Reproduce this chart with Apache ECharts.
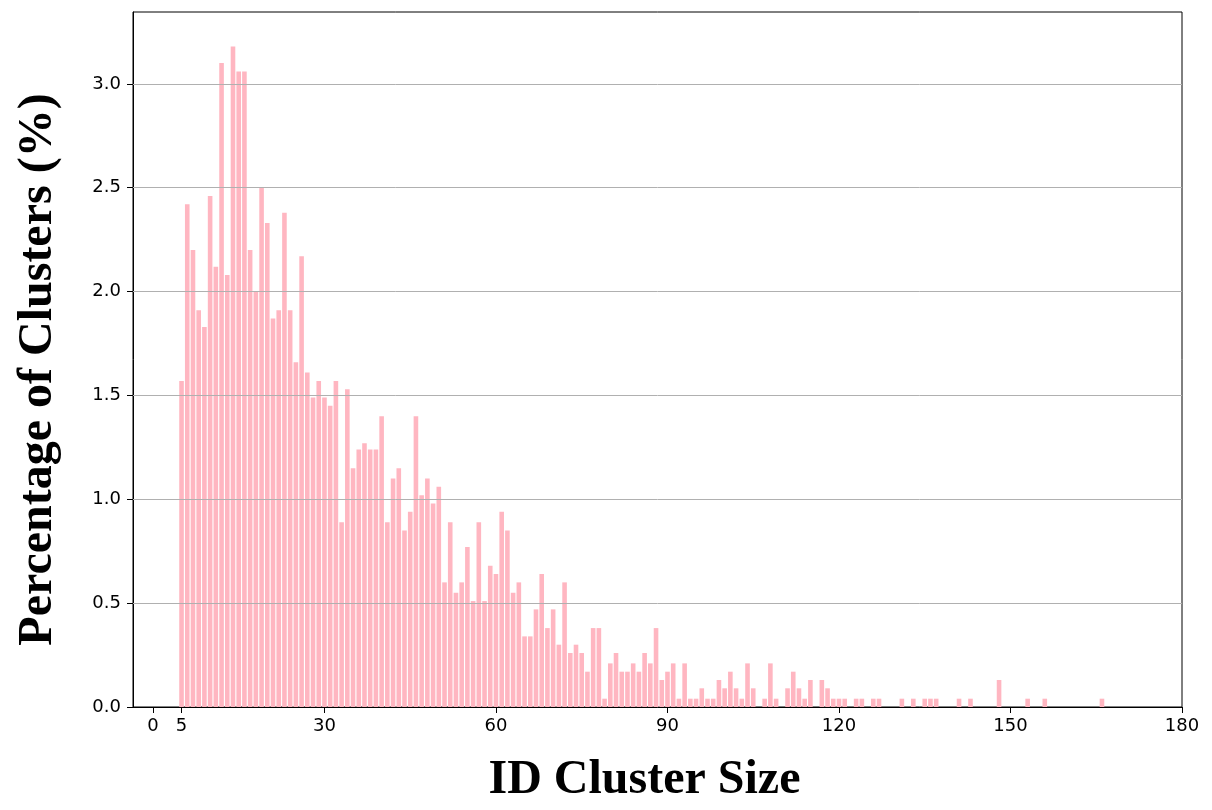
<!DOCTYPE html>
<html>
<head>
<meta charset="utf-8">
<title>ID Cluster Size</title>
<script src="https://cdn.jsdelivr.net/npm/echarts@6/dist/echarts.min.js"></script>
<style>
  html, body { margin: 0; padding: 0; background: #fff; }
  #chart { width: 1212px; height: 810px; }
</style>
</head>
<body>
<div id="chart"></div>
<script>
// cluster size (x) and percentage of clusters (y)
var sizes = [
    5, 6, 7, 8, 9, 10, 11, 12, 13, 14, 15, 16, 17, 18, 19, 20, 21, 22, 23, 24,
    25, 26, 27, 28, 29, 30, 31, 32, 33, 34, 35, 36, 37, 38, 39, 40, 41, 42, 43, 44,
    45, 46, 47, 48, 49, 50, 51, 52, 53, 54, 55, 56, 57, 58, 59, 60, 61, 62, 63, 64,
    65, 66, 67, 68, 69, 70, 71, 72, 73, 74, 75, 76, 77, 78, 79, 80, 81, 82, 83, 84,
    85, 86, 87, 88, 89, 90, 91, 92, 93, 94, 95, 96, 97, 98, 99, 100, 101, 102, 103, 104,
    105, 107, 108, 109, 111, 112, 113, 114, 115, 117, 118, 119, 120, 121, 123, 124,
    126, 127, 131, 133, 135, 136, 137, 141, 143, 148, 153, 156, 166
];
var percents = [
    1.57, 2.42, 2.20, 1.91, 1.83, 2.46, 2.12, 3.10, 2.08, 3.18, 3.06, 3.06, 2.20, 2.00, 2.50, 2.33, 1.87, 1.91, 2.38, 1.91,
    1.66, 2.17, 1.61, 1.49, 1.57, 1.49, 1.45, 1.57, 0.89, 1.53, 1.15, 1.24, 1.27, 1.24, 1.24, 1.40, 0.89, 1.10, 1.15, 0.85,
    0.94, 1.40, 1.02, 1.10, 0.98, 1.06, 0.60, 0.89, 0.55, 0.60, 0.77, 0.51, 0.89, 0.51, 0.68, 0.64, 0.94, 0.85, 0.55, 0.60,
    0.34, 0.34, 0.47, 0.64, 0.38, 0.47, 0.30, 0.60, 0.26, 0.30, 0.26, 0.17, 0.38, 0.38, 0.04, 0.21, 0.26, 0.17, 0.17, 0.21,
    0.17, 0.26, 0.21, 0.38, 0.13, 0.17, 0.21, 0.04, 0.21, 0.04, 0.04, 0.09, 0.04, 0.04, 0.13, 0.09, 0.17, 0.09, 0.04, 0.21,
    0.09, 0.04, 0.21, 0.04, 0.09, 0.17, 0.09, 0.04, 0.13, 0.13, 0.09, 0.04, 0.04, 0.04, 0.04, 0.04,
    0.04, 0.04, 0.04, 0.04, 0.04, 0.04, 0.04, 0.04, 0.04, 0.13, 0.04, 0.04, 0.04
];
var xTicks = [0, 5, 30, 60, 90, 120, 150, 180];
var yTicks = [0, 0.5, 1.0, 1.5, 2.0, 2.5, 3.0];

var dom = document.getElementById("chart");
var myChart = echarts.init(dom);

var barData = [];
for (var i = 0; i < sizes.length; i++) {
    barData.push([sizes[i], percents[i]]);
}

var tickFont = {
    color: '#000',
    fontFamily: 'DejaVu Sans',
    fontSize: 18
};

var option = {
    animation: false,
    grid: {
        left: 133,
        right: 30,
        top: 12,
        bottom: 102,
        show: true,
        borderColor: '#000',
        borderWidth: 1
    },
    xAxis: {
        type: 'value',
        min: -3.49,
        max: 180,
        name: 'ID Cluster Size',
        nameLocation: 'middle',
        nameGap: 50,
        nameTextStyle: {
            fontFamily: 'Liberation Serif',
            fontWeight: 'bold',
            fontSize: 48,
            color: '#000',
            padding: [0, 26, 0, 0]
        },
        axisLine: { show: true, onZero: false, lineStyle: { color: '#000', width: 1 } },
        axisTick: { show: true, length: 6, customValues: xTicks, lineStyle: { color: '#000' } },
        axisLabel: Object.assign({ margin: 10, customValues: xTicks }, tickFont),
        splitLine: { show: false }
    },
    yAxis: {
        type: 'value',
        min: 0,
        max: 3.346,
        name: 'Percentage of Clusters (%)',
        nameLocation: 'middle',
        nameGap: 70,
        nameTextStyle: {
            fontFamily: 'Liberation Serif',
            fontWeight: 'bold',
            fontSize: 48,
            color: '#000',
            padding: [0, 20, 0, 0]
        },
        axisLine: { show: true, onZero: false, lineStyle: { color: '#000', width: 1 } },
        axisTick: { show: true, length: 6, customValues: yTicks, lineStyle: { color: '#000' } },
        axisLabel: Object.assign({
            margin: 12,
            customValues: yTicks,
            formatter: function (v) { return v.toFixed(1); }
        }, tickFont),
        splitLine: { show: false }
    },
    series: [
        {
            name: 'Percentage of Clusters',
            type: 'bar',
            barWidth: 4.6,
            itemStyle: { color: '#FFB6C1' },
            data: barData,
            // grid lines drawn over the bars, like matplotlib
            markLine: {
                silent: true,
                symbol: 'none',
                label: { show: false },
                lineStyle: { color: '#b0b0b0', width: 1, type: 'solid' },
                data: yTicks.slice(1).map(function (v) { return { yAxis: v }; })
            }
        }
    ]
};

if (option && typeof option === "object") {
    myChart.setOption(option, true);
}
</script>
</body>
</html>
